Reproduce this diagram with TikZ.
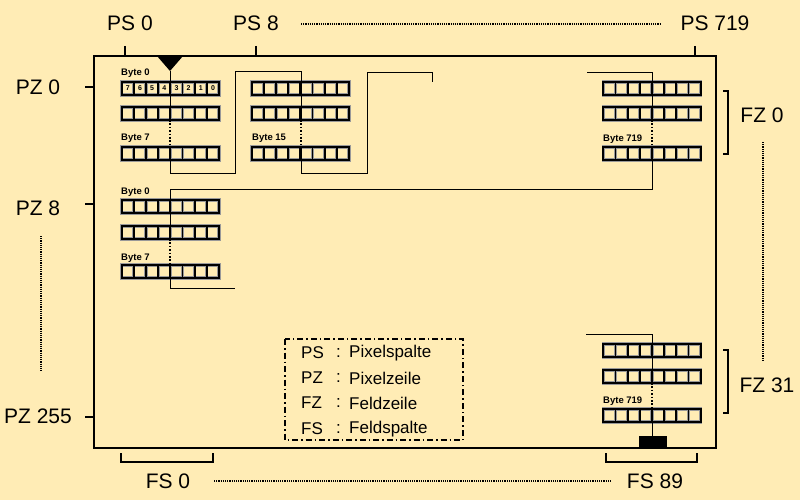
\documentclass[tikz,border=0pt]{standalone}
\usepackage{fontspec}
\setmainfont{Liberation Sans}
\definecolor{paper}{RGB}{255,236,181}
\tikzset{
	cellshade/.style={draw=black!40, line width=3.2pt},
	cell/.style={draw=black, line width=1.8pt},
	wire/.style={line width=0.9pt},
	gap/.style={line width=1.6pt, dash pattern=on 1.6pt off 1.8pt},
	dotline/.style={line width=1.1pt, dash pattern=on 1.1pt off 1.1pt},
	tick/.style={line width=1.4pt},
	bracket/.style={line width=1.8pt},
	lbl/.style={font=\fontsize{21}{21}\selectfont, inner sep=0pt},
	bytelbl/.style={font=\fontsize{9.5}{9.5}\selectfont\bfseries, anchor=west, inner sep=0pt},
	bit/.style={font=\fontsize{7}{7}\selectfont\bfseries, inner sep=0pt},
	keytxt/.style={font=\fontsize{17}{17}\selectfont, anchor=west, inner sep=0pt}
}
% one byte = 8 pixel cells, #1 = left, #2 = top
\newcommand{\byterow}[2]{%
	\foreach \k in {0,...,7} \draw[cellshade] ({#1+\k*12.17},#2) rectangle ++(12.17,13);
	\foreach \k in {0,...,7} \draw[cell] ({#1+\k*12.17},#2) rectangle ++(12.17,13);
}
\begin{document}
\begin{tikzpicture}[x=1pt, y=-1pt]
	\useasboundingbox[fill=paper] (0,0) rectangle (800,500);
	% Frame
	\draw[line width=2.4pt] (94,56) rectangle (716,448);
	\fill (157,56) -- (183,56) -- (170,71) -- cycle;
	\fill (639,436) rectangle (667,448);
	% Column labels
	\node[lbl] (ps0) at (130,23) {PS 0};
	\node[lbl] (ps8) at (256,23) {PS 8};
	\node[lbl] (ps719) at (715,23) {PS 719};
	\draw[dotline] ([shift={(45,1)}]ps8.center) -- ([shift={(-54,1)}]ps719.center);
	\draw[tick] (125,46) -- (125,56);
	\draw[tick] (256,46) -- (256,56);
	\draw[tick] (695,46) -- (695,56);
	% Row labels
	\node[lbl] (pz0) at (38,87) {PZ 0};
	\node[lbl] (pz8) at (38,208) {PZ 8};
	\node[lbl] (pz255) at (38,416) {PZ 255};
	\draw[dotline] ([shift={(3,28)}]pz8.center) -- ([shift={(3,-44)}]pz255.center);
	\draw[tick] (85,87) -- (94,87);
	\draw[tick] (85,204) -- (94,204);
	\draw[tick] (85,417) -- (94,417);
	% Field rows
	\draw[bracket] (723,91) -- (728,91) -- (728,154) -- (723,154);
	\draw[bracket] (723,350) -- (728,350) -- (728,413) -- (723,413);
	\node[lbl] (fz0) at (762,115) {FZ 0};
	\node[lbl] (fz31) at (767,385) {FZ 31};
	\draw[dotline] ([shift={(1,27)}]fz0.center) -- ([shift={(-4,-25)}]fz31.center);
	% Field columns
	\draw[bracket] (121,453) -- (121,462) -- (213,462) -- (213,453);
	\draw[bracket] (606,453) -- (606,462) -- (697,462) -- (697,453);
	\node[lbl] (fs0) at (168,481) {FS 0};
	\node[lbl] (fs89) at (655,481) {FS 89};
	\draw[dotline] ([shift={(46,0)}]fs0.center) -- ([shift={(-44,0)}]fs89.center);
	% Bytes
	\byterow{121.7}{82} \byterow{121.7}{107} \byterow{121.7}{147}
	\byterow{251.7}{82} \byterow{251.7}{107} \byterow{251.7}{147}
	\byterow{603.3}{82} \byterow{603.3}{107} \byterow{603.3}{147}
	\byterow{121.7}{200} \byterow{121.7}{226} \byterow{121.7}{265}
	\byterow{603.3}{344} \byterow{603.3}{370} \byterow{603.3}{409}
	\foreach \b [count=\i from 0] in {7,6,5,4,3,2,1,0}
		\node[bit] (bit\b) at ({121.7+(\i+0.5)*12.17},88.5) {\b};
	\node[bytelbl] (b0) at (121,73) {Byte 0};
	\node[bytelbl] (b7) at (121,138) {Byte 7};
	\node[bytelbl] (b15) at (252,138) {Byte 15};
	\node[bytelbl] (b719) at (603,139) {Byte 719};
	\node[bytelbl] (c0) at (121,192) {Byte 0};
	\node[bytelbl] (c7) at (121,258) {Byte 7};
	\node[bytelbl] (d719) at (603,401) {Byte 719};
	% Scan path
	\draw[wire] (170,71) -- (170,120);
	\draw[gap] (170,120) -- (170,147);
	\draw[wire] (170,147) -- (170,173) -- (235,173) -- (235,71) -- (301,71) -- (301,120);
	\draw[gap] (301,120) -- (301,147);
	\draw[wire] (301,147) -- (301,173) -- (367,173) -- (367,72) -- (432,72) -- (432,82);
	\draw[wire] (587,72) -- (652,72) -- (652,120);
	\draw[gap] (652,120) -- (652,147);
	\draw[wire] (652,147) -- (652,189) -- (170,189) -- (170,239);
	\draw[gap] (170,239) -- (170,265);
	\draw[wire] (170,265) -- (170,288) -- (235,288);
	\draw[wire] (586,334) -- (652,334) -- (652,383);
	\draw[gap] (652,383) -- (652,409);
	\draw[wire] (652,409) -- (652,436);
	% Legend
	\draw[line width=1.3pt, dash pattern=on 6pt off 3pt on 1.5pt off 3pt] (285,339) rectangle (463,440);
	\foreach \a/\t/\y [count=\i] in {PS/Pixelspalte/353, PZ/Pixelzeile/378, FZ/Feldzeile/403, FS/Feldspalte/429} {
		\node[keytxt] (key\i) at (301,\y) {\a};
		\node[keytxt] (col\i) at (336,\y) {:};
		\node[keytxt] (txt\i) at (349,\y) {\t};
	}
\end{tikzpicture}
\end{document}
